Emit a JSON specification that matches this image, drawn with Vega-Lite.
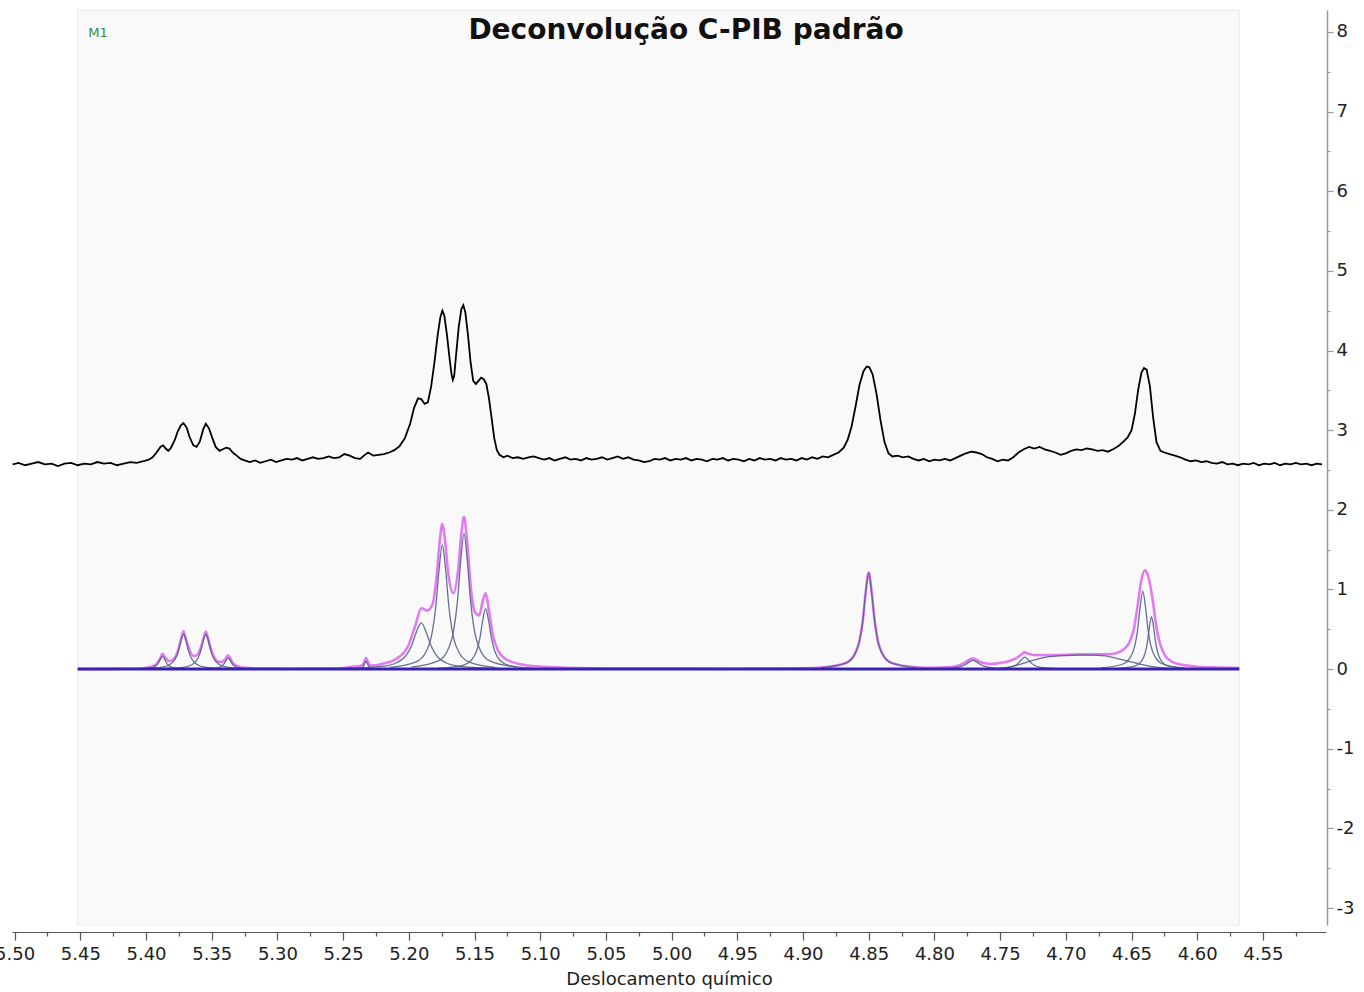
{
  "$schema": "https://vega.github.io/schema/vega-lite/v6.json",
  "width": 1314,
  "height": 915,
  "autosize": {"type": "none"},
  "padding": {"left": 12, "top": 10, "right": 38, "bottom": 67},
  "background": "white",
  "title": {"text": "Deconvolução C-PIB padrão", "anchor": "middle", "frame": "group", "orient": "top", "baseline": "middle", "offset": -21, "dy": 28, "dx": 17, "font": "DejaVu Sans", "fontSize": 28, "fontWeight": "bold", "color": "#111111"},
  "config": {"view": {"stroke": null}, "axis": {"grid": false}},
  "datasets": {
    "panel": [{"x": 5.452, "x2": 4.568, "y": 8.276, "y2": -3.213}],
    "marker": [{"x": 5.4365, "y": 7.99, "label": "M1"}],
    "base": [{"x": 5.452, "y": 0}, {"x": 4.568, "y": 0}],
    "spectrum": [
      {"x":5.5015,"y":2.57},{"x":5.497,"y":2.59},{"x":5.492,"y":2.56},{"x":5.487,"y":2.58},{"x":5.482,"y":2.6},{"x":5.477,"y":2.57},{"x":5.472,"y":2.58},{"x":5.467,"y":2.55},{"x":5.462,"y":2.58},{"x":5.457,"y":2.59},{"x":5.452,"y":2.56},{"x":5.447,"y":2.58},{"x":5.442,"y":2.57},{"x":5.437,"y":2.6},{"x":5.432,"y":2.58},{"x":5.427,"y":2.59},{"x":5.422,"y":2.56},{"x":5.417,"y":2.58},{"x":5.412,"y":2.6},{"x":5.407,"y":2.59},{"x":5.402,"y":2.61},{"x":5.398,"y":2.63},{"x":5.395,"y":2.66},{"x":5.392,"y":2.72},{"x":5.389,"y":2.79},{"x":5.387,"y":2.81},{"x":5.385,"y":2.77},{"x":5.383,"y":2.74},{"x":5.381,"y":2.78},{"x":5.378,"y":2.88},{"x":5.376,"y":2.98},{"x":5.3735,"y":3.06},{"x":5.3715,"y":3.09},{"x":5.369,"y":3.03},{"x":5.367,"y":2.92},{"x":5.364,"y":2.81},{"x":5.3615,"y":2.79},{"x":5.359,"y":2.86},{"x":5.3565,"y":3.01},{"x":5.3545,"y":3.08},{"x":5.352,"y":3.02},{"x":5.3495,"y":2.9},{"x":5.347,"y":2.79},{"x":5.344,"y":2.74},{"x":5.3415,"y":2.76},{"x":5.339,"y":2.78},{"x":5.3365,"y":2.77},{"x":5.334,"y":2.72},{"x":5.331,"y":2.68},{"x":5.328,"y":2.64},{"x":5.325,"y":2.62},{"x":5.321,"y":2.6},{"x":5.317,"y":2.62},{"x":5.313,"y":2.59},{"x":5.309,"y":2.61},{"x":5.305,"y":2.63},{"x":5.301,"y":2.6},{"x":5.297,"y":2.62},{"x":5.293,"y":2.64},{"x":5.289,"y":2.63},{"x":5.285,"y":2.65},{"x":5.281,"y":2.62},{"x":5.277,"y":2.64},{"x":5.273,"y":2.66},{"x":5.269,"y":2.64},{"x":5.265,"y":2.65},{"x":5.261,"y":2.67},{"x":5.257,"y":2.65},{"x":5.253,"y":2.66},{"x":5.249,"y":2.7},{"x":5.245,"y":2.68},{"x":5.241,"y":2.65},{"x":5.237,"y":2.64},{"x":5.2335,"y":2.69},{"x":5.231,"y":2.72},{"x":5.227,"y":2.68},{"x":5.223,"y":2.69},{"x":5.219,"y":2.7},{"x":5.215,"y":2.72},{"x":5.211,"y":2.75},{"x":5.207,"y":2.8},{"x":5.203,"y":2.9},{"x":5.199,"y":3.08},{"x":5.196,"y":3.28},{"x":5.193,"y":3.4},{"x":5.1905,"y":3.39},{"x":5.188,"y":3.33},{"x":5.1855,"y":3.35},{"x":5.183,"y":3.55},{"x":5.1805,"y":3.85},{"x":5.178,"y":4.2},{"x":5.176,"y":4.42},{"x":5.1745,"y":4.5},{"x":5.173,"y":4.44},{"x":5.171,"y":4.2},{"x":5.169,"y":3.9},{"x":5.1675,"y":3.7},{"x":5.1665,"y":3.63},{"x":5.1655,"y":3.68},{"x":5.164,"y":3.95},{"x":5.162,"y":4.3},{"x":5.16,"y":4.52},{"x":5.1585,"y":4.57},{"x":5.157,"y":4.48},{"x":5.155,"y":4.2},{"x":5.153,"y":3.85},{"x":5.151,"y":3.62},{"x":5.149,"y":3.58},{"x":5.147,"y":3.62},{"x":5.145,"y":3.66},{"x":5.143,"y":3.64},{"x":5.141,"y":3.58},{"x":5.139,"y":3.4},{"x":5.137,"y":3.15},{"x":5.135,"y":2.9},{"x":5.133,"y":2.75},{"x":5.131,"y":2.69},{"x":5.128,"y":2.66},{"x":5.125,"y":2.68},{"x":5.121,"y":2.65},{"x":5.117,"y":2.66},{"x":5.113,"y":2.64},{"x":5.109,"y":2.66},{"x":5.105,"y":2.67},{"x":5.101,"y":2.65},{"x":5.097,"y":2.63},{"x":5.093,"y":2.65},{"x":5.089,"y":2.62},{"x":5.085,"y":2.64},{"x":5.081,"y":2.66},{"x":5.077,"y":2.63},{"x":5.073,"y":2.64},{"x":5.069,"y":2.62},{"x":5.065,"y":2.65},{"x":5.061,"y":2.63},{"x":5.057,"y":2.64},{"x":5.053,"y":2.66},{"x":5.049,"y":2.63},{"x":5.045,"y":2.65},{"x":5.041,"y":2.67},{"x":5.037,"y":2.64},{"x":5.033,"y":2.66},{"x":5.029,"y":2.63},{"x":5.025,"y":2.62},{"x":5.021,"y":2.6},{"x":5.017,"y":2.61},{"x":5.013,"y":2.64},{"x":5.009,"y":2.63},{"x":5.005,"y":2.65},{"x":5.001,"y":2.62},{"x":4.997,"y":2.64},{"x":4.993,"y":2.63},{"x":4.989,"y":2.65},{"x":4.985,"y":2.62},{"x":4.981,"y":2.64},{"x":4.977,"y":2.63},{"x":4.973,"y":2.61},{"x":4.969,"y":2.64},{"x":4.965,"y":2.63},{"x":4.961,"y":2.65},{"x":4.957,"y":2.62},{"x":4.953,"y":2.64},{"x":4.949,"y":2.63},{"x":4.945,"y":2.61},{"x":4.941,"y":2.64},{"x":4.937,"y":2.62},{"x":4.933,"y":2.65},{"x":4.929,"y":2.63},{"x":4.925,"y":2.64},{"x":4.921,"y":2.62},{"x":4.917,"y":2.65},{"x":4.913,"y":2.63},{"x":4.909,"y":2.64},{"x":4.905,"y":2.62},{"x":4.901,"y":2.65},{"x":4.897,"y":2.63},{"x":4.893,"y":2.66},{"x":4.889,"y":2.64},{"x":4.885,"y":2.67},{"x":4.881,"y":2.66},{"x":4.877,"y":2.69},{"x":4.873,"y":2.72},{"x":4.869,"y":2.78},{"x":4.866,"y":2.88},{"x":4.863,"y":3.05},{"x":4.86,"y":3.3},{"x":4.857,"y":3.57},{"x":4.854,"y":3.74},{"x":4.8515,"y":3.8},{"x":4.8495,"y":3.79},{"x":4.847,"y":3.7},{"x":4.844,"y":3.45},{"x":4.841,"y":3.12},{"x":4.838,"y":2.85},{"x":4.835,"y":2.71},{"x":4.832,"y":2.67},{"x":4.828,"y":2.68},{"x":4.824,"y":2.66},{"x":4.82,"y":2.67},{"x":4.816,"y":2.64},{"x":4.812,"y":2.62},{"x":4.808,"y":2.64},{"x":4.804,"y":2.61},{"x":4.8,"y":2.63},{"x":4.796,"y":2.62},{"x":4.792,"y":2.64},{"x":4.788,"y":2.62},{"x":4.784,"y":2.65},{"x":4.78,"y":2.68},{"x":4.776,"y":2.71},{"x":4.772,"y":2.73},{"x":4.768,"y":2.72},{"x":4.764,"y":2.7},{"x":4.76,"y":2.66},{"x":4.756,"y":2.64},{"x":4.752,"y":2.61},{"x":4.748,"y":2.63},{"x":4.744,"y":2.62},{"x":4.74,"y":2.66},{"x":4.736,"y":2.72},{"x":4.732,"y":2.76},{"x":4.728,"y":2.79},{"x":4.724,"y":2.77},{"x":4.72,"y":2.79},{"x":4.716,"y":2.76},{"x":4.712,"y":2.74},{"x":4.708,"y":2.72},{"x":4.704,"y":2.69},{"x":4.7,"y":2.71},{"x":4.696,"y":2.74},{"x":4.692,"y":2.76},{"x":4.688,"y":2.75},{"x":4.684,"y":2.77},{"x":4.68,"y":2.76},{"x":4.676,"y":2.74},{"x":4.672,"y":2.75},{"x":4.668,"y":2.73},{"x":4.664,"y":2.76},{"x":4.66,"y":2.8},{"x":4.656,"y":2.86},{"x":4.653,"y":2.91},{"x":4.65,"y":3.0},{"x":4.6475,"y":3.2},{"x":4.645,"y":3.5},{"x":4.6425,"y":3.72},{"x":4.6405,"y":3.78},{"x":4.6385,"y":3.76},{"x":4.636,"y":3.55},{"x":4.6335,"y":3.15},{"x":4.631,"y":2.85},{"x":4.628,"y":2.74},{"x":4.625,"y":2.72},{"x":4.621,"y":2.7},{"x":4.617,"y":2.68},{"x":4.613,"y":2.66},{"x":4.609,"y":2.63},{"x":4.605,"y":2.61},{"x":4.601,"y":2.62},{"x":4.597,"y":2.6},{"x":4.593,"y":2.61},{"x":4.589,"y":2.59},{"x":4.585,"y":2.58},{"x":4.581,"y":2.6},{"x":4.577,"y":2.57},{"x":4.573,"y":2.58},{"x":4.569,"y":2.56},{"x":4.565,"y":2.58},{"x":4.561,"y":2.57},{"x":4.557,"y":2.59},{"x":4.553,"y":2.56},{"x":4.549,"y":2.58},{"x":4.545,"y":2.57},{"x":4.541,"y":2.59},{"x":4.537,"y":2.56},{"x":4.533,"y":2.58},{"x":4.529,"y":2.57},{"x":4.525,"y":2.59},{"x":4.521,"y":2.57},{"x":4.517,"y":2.58},{"x":4.513,"y":2.56},{"x":4.509,"y":2.58},{"x":4.505,"y":2.57}
    ],
    "fit": [
      {"x":5.452,"y":0},{"x":5.43,"y":0.002},{"x":5.415,"y":0.004},{"x":5.405,"y":0.008},{"x":5.3995,"y":0.018},{"x":5.395,"y":0.034},{"x":5.392,"y":0.065},{"x":5.3905,"y":0.099},{"x":5.389,"y":0.14},{"x":5.3875,"y":0.192},{"x":5.386,"y":0.16},{"x":5.385,"y":0.138},{"x":5.3825,"y":0.102},{"x":5.38,"y":0.113},{"x":5.3775,"y":0.157},{"x":5.375,"y":0.271},{"x":5.373,"y":0.4},{"x":5.3715,"y":0.474},{"x":5.37,"y":0.4},{"x":5.368,"y":0.29},{"x":5.3655,"y":0.19},{"x":5.363,"y":0.164},{"x":5.3605,"y":0.19},{"x":5.358,"y":0.288},{"x":5.356,"y":0.4},{"x":5.3545,"y":0.473},{"x":5.353,"y":0.4},{"x":5.351,"y":0.272},{"x":5.3475,"y":0.131},{"x":5.3445,"y":0.092},{"x":5.342,"y":0.092},{"x":5.3395,"y":0.13},{"x":5.3375,"y":0.175},{"x":5.336,"y":0.14},{"x":5.3345,"y":0.09},{"x":5.331,"y":0.04},{"x":5.325,"y":0.016},{"x":5.31,"y":0.006},{"x":5.29,"y":0.004},{"x":5.27,"y":0.006},{"x":5.25,"y":0.013},{"x":5.245,"y":0.026},{"x":5.2385,"y":0.036},{"x":5.236,"y":0.045},{"x":5.2345,"y":0.07},{"x":5.2335,"y":0.11},{"x":5.2325,"y":0.138},{"x":5.2315,"y":0.11},{"x":5.2305,"y":0.07},{"x":5.229,"y":0.048},{"x":5.227,"y":0.044},{"x":5.22,"y":0.067},{"x":5.21,"y":0.124},{"x":5.2,"y":0.309},{"x":5.195,"y":0.55},{"x":5.1905,"y":0.764},{"x":5.186,"y":0.734},{"x":5.182,"y":0.814},{"x":5.179,"y":1.137},{"x":5.1765,"y":1.6},{"x":5.1745,"y":1.824},{"x":5.1725,"y":1.627},{"x":5.17,"y":1.2},{"x":5.166,"y":0.953},{"x":5.1625,"y":1.242},{"x":5.16,"y":1.707},{"x":5.158,"y":1.913},{"x":5.156,"y":1.67},{"x":5.153,"y":1.053},{"x":5.15,"y":0.726},{"x":5.1465,"y":0.675},{"x":5.1435,"y":0.87},{"x":5.1415,"y":0.951},{"x":5.139,"y":0.733},{"x":5.136,"y":0.425},{"x":5.132,"y":0.229},{"x":5.126,"y":0.124},{"x":5.115,"y":0.061},{"x":5.1,"y":0.032},{"x":5.07,"y":0.013},{"x":5.03,"y":0.006},{"x":4.95,"y":0.004},{"x":4.9,"y":0.011},{"x":4.886,"y":0.02},{"x":4.868,"y":0.074},{"x":4.8613,"y":0.17},{"x":4.8568,"y":0.376},{"x":4.8545,"y":0.608},{"x":4.8523,"y":0.97},{"x":4.85,"y":1.212},{"x":4.8478,"y":0.97},{"x":4.8455,"y":0.608},{"x":4.8433,"y":0.376},{"x":4.8388,"y":0.17},{"x":4.832,"y":0.075},{"x":4.814,"y":0.024},{"x":4.8,"y":0.016},{"x":4.79,"y":0.022},{"x":4.785,"y":0.032},{"x":4.78,"y":0.055},{"x":4.776,"y":0.09},{"x":4.7735,"y":0.12},{"x":4.7707,"y":0.134},{"x":4.768,"y":0.115},{"x":4.765,"y":0.09},{"x":4.762,"y":0.075},{"x":4.758,"y":0.065},{"x":4.752,"y":0.072},{"x":4.745,"y":0.092},{"x":4.74,"y":0.12},{"x":4.736,"y":0.155},{"x":4.7335,"y":0.19},{"x":4.7312,"y":0.21},{"x":4.729,"y":0.195},{"x":4.7248,"y":0.178},{"x":4.715,"y":0.176},{"x":4.7,"y":0.18},{"x":4.69,"y":0.185},{"x":4.675,"y":0.185},{"x":4.665,"y":0.19},{"x":4.66,"y":0.21},{"x":4.655,"y":0.26},{"x":4.651,"y":0.36},{"x":4.648,"y":0.52},{"x":4.6455,"y":0.78},{"x":4.6425,"y":1.12},{"x":4.6399,"y":1.24},{"x":4.637,"y":1.15},{"x":4.634,"y":0.88},{"x":4.631,"y":0.52},{"x":4.628,"y":0.3},{"x":4.624,"y":0.16},{"x":4.619,"y":0.09},{"x":4.61,"y":0.05},{"x":4.6,"y":0.03},{"x":4.585,"y":0.02},{"x":4.568,"y":0.012}
    ],
    "peaks": [
      {"id":"A1","x":5.4115,"y":0.0024},{"id":"A1","x":5.3995,"y":0.0094},{"id":"A1","x":5.395,"y":0.022},{"id":"A1","x":5.392,"y":0.049},{"id":"A1","x":5.3905,"y":0.08},{"id":"A1","x":5.389,"y":0.128},{"id":"A1","x":5.3875,"y":0.16},{"id":"A1","x":5.386,"y":0.128},{"id":"A1","x":5.3845,"y":0.08},{"id":"A1","x":5.383,"y":0.049},{"id":"A1","x":5.38,"y":0.022},{"id":"A1","x":5.3755,"y":0.0094},{"id":"A1","x":5.3635,"y":0.0024},
      {"id":"A2","x":5.4035,"y":0.0066},{"id":"A2","x":5.3875,"y":0.026},{"id":"A2","x":5.3815,"y":0.061},{"id":"A2","x":5.3775,"y":0.136},{"id":"A2","x":5.3755,"y":0.22},{"id":"A2","x":5.3735,"y":0.352},{"id":"A2","x":5.3715,"y":0.44},{"id":"A2","x":5.3695,"y":0.352},{"id":"A2","x":5.3675,"y":0.22},{"id":"A2","x":5.3655,"y":0.136},{"id":"A2","x":5.3615,"y":0.061},{"id":"A2","x":5.3555,"y":0.026},{"id":"A2","x":5.3395,"y":0.0066},
      {"id":"A3","x":5.3865,"y":0.0066},{"id":"A3","x":5.3705,"y":0.026},{"id":"A3","x":5.3645,"y":0.061},{"id":"A3","x":5.3605,"y":0.136},{"id":"A3","x":5.3585,"y":0.22},{"id":"A3","x":5.3565,"y":0.352},{"id":"A3","x":5.3545,"y":0.44},{"id":"A3","x":5.3525,"y":0.352},{"id":"A3","x":5.3505,"y":0.22},{"id":"A3","x":5.3485,"y":0.136},{"id":"A3","x":5.3445,"y":0.061},{"id":"A3","x":5.3385,"y":0.026},{"id":"A3","x":5.3225,"y":0.0066},
      {"id":"A4","x":5.3615,"y":0.0021},{"id":"A4","x":5.3495,"y":0.0083},{"id":"A4","x":5.345,"y":0.0193},{"id":"A4","x":5.342,"y":0.043},{"id":"A4","x":5.3405,"y":0.07},{"id":"A4","x":5.339,"y":0.112},{"id":"A4","x":5.3375,"y":0.14},{"id":"A4","x":5.336,"y":0.112},{"id":"A4","x":5.3345,"y":0.07},{"id":"A4","x":5.333,"y":0.043},{"id":"A4","x":5.33,"y":0.0193},{"id":"A4","x":5.3255,"y":0.0083},{"id":"A4","x":5.3135,"y":0.0021},
      {"id":"B","x":5.2445,"y":0.0015},{"id":"B","x":5.2385,"y":0.0059},{"id":"B","x":5.2363,"y":0.0138},{"id":"B","x":5.2348,"y":0.031},{"id":"B","x":5.234,"y":0.05},{"id":"B","x":5.2333,"y":0.08},{"id":"B","x":5.2325,"y":0.1},{"id":"B","x":5.2318,"y":0.08},{"id":"B","x":5.231,"y":0.05},{"id":"B","x":5.2303,"y":0.031},{"id":"B","x":5.2288,"y":0.0138},{"id":"B","x":5.2265,"y":0.0059},{"id":"B","x":5.2205,"y":0.0015},
      {"id":"C5","x":5.2505,"y":0.0087},{"id":"C5","x":5.2205,"y":0.034},{"id":"C5","x":5.2093,"y":0.08},{"id":"C5","x":5.2018,"y":0.179},{"id":"C5","x":5.198,"y":0.29},{"id":"C5","x":5.1943,"y":0.464},{"id":"C5","x":5.1905,"y":0.58},{"id":"C5","x":5.1868,"y":0.464},{"id":"C5","x":5.183,"y":0.29},{"id":"C5","x":5.1793,"y":0.179},{"id":"C5","x":5.1718,"y":0.08},{"id":"C5","x":5.1605,"y":0.034},{"id":"C5","x":5.1305,"y":0.0087},
      {"id":"C6","x":5.2145,"y":0.023},{"id":"C6","x":5.1945,"y":0.092},{"id":"C6","x":5.187,"y":0.215},{"id":"C6","x":5.182,"y":0.48},{"id":"C6","x":5.1795,"y":0.78},{"id":"C6","x":5.177,"y":1.248},{"id":"C6","x":5.1745,"y":1.56},{"id":"C6","x":5.172,"y":1.248},{"id":"C6","x":5.1695,"y":0.78},{"id":"C6","x":5.167,"y":0.48},{"id":"C6","x":5.162,"y":0.215},{"id":"C6","x":5.1545,"y":0.092},{"id":"C6","x":5.1345,"y":0.023},
      {"id":"C7","x":5.198,"y":0.026},{"id":"C7","x":5.178,"y":0.1},{"id":"C7","x":5.1705,"y":0.235},{"id":"C7","x":5.1655,"y":0.524},{"id":"C7","x":5.163,"y":0.85},{"id":"C7","x":5.1605,"y":1.36},{"id":"C7","x":5.158,"y":1.7},{"id":"C7","x":5.1555,"y":1.36},{"id":"C7","x":5.153,"y":0.85},{"id":"C7","x":5.1505,"y":0.524},{"id":"C7","x":5.1455,"y":0.235},{"id":"C7","x":5.138,"y":0.1},{"id":"C7","x":5.118,"y":0.026},
      {"id":"C8","x":5.1775,"y":0.0114},{"id":"C8","x":5.1595,"y":0.045},{"id":"C8","x":5.1528,"y":0.105},{"id":"C8","x":5.1483,"y":0.234},{"id":"C8","x":5.146,"y":0.38},{"id":"C8","x":5.1438,"y":0.608},{"id":"C8","x":5.1415,"y":0.76},{"id":"C8","x":5.1393,"y":0.608},{"id":"C8","x":5.137,"y":0.38},{"id":"C8","x":5.1348,"y":0.234},{"id":"C8","x":5.1303,"y":0.105},{"id":"C8","x":5.1235,"y":0.045},{"id":"C8","x":5.1055,"y":0.0114},
      {"id":"D","x":4.886,"y":0.018},{"id":"D","x":4.868,"y":0.071},{"id":"D","x":4.8613,"y":0.167},{"id":"D","x":4.8568,"y":0.373},{"id":"D","x":4.8545,"y":0.605},{"id":"D","x":4.8523,"y":0.968},{"id":"D","x":4.85,"y":1.21},{"id":"D","x":4.8478,"y":0.968},{"id":"D","x":4.8455,"y":0.605},{"id":"D","x":4.8433,"y":0.373},{"id":"D","x":4.8388,"y":0.167},{"id":"D","x":4.832,"y":0.071},{"id":"D","x":4.814,"y":0.018},
      {"id":"E1","x":4.8187,"y":0.0017},{"id":"E1","x":4.7947,"y":0.0065},{"id":"E1","x":4.7857,"y":0.0152},{"id":"E1","x":4.7797,"y":0.034},{"id":"E1","x":4.7767,"y":0.055},{"id":"E1","x":4.7737,"y":0.088},{"id":"E1","x":4.7707,"y":0.11},{"id":"E1","x":4.7677,"y":0.088},{"id":"E1","x":4.7647,"y":0.055},{"id":"E1","x":4.7617,"y":0.034},{"id":"E1","x":4.7557,"y":0.0152},{"id":"E1","x":4.7467,"y":0.0065},{"id":"E1","x":4.7227,"y":0.0017},
      {"id":"E2","x":4.7712,"y":0.0023},{"id":"E2","x":4.7512,"y":0.0089},{"id":"E2","x":4.7437,"y":0.0207},{"id":"E2","x":4.7387,"y":0.046},{"id":"E2","x":4.7362,"y":0.075},{"id":"E2","x":4.7337,"y":0.12},{"id":"E2","x":4.7312,"y":0.15},{"id":"E2","x":4.7287,"y":0.12},{"id":"E2","x":4.7262,"y":0.075},{"id":"E2","x":4.7237,"y":0.046},{"id":"E2","x":4.7187,"y":0.0207},{"id":"E2","x":4.7112,"y":0.0089},{"id":"E2","x":4.6912,"y":0.0023},
      {"id":"E3","x":4.76,"y":0},{"id":"E3","x":4.745,"y":0.02},{"id":"E3","x":4.735,"y":0.06},{"id":"E3","x":4.725,"y":0.11},{"id":"E3","x":4.715,"y":0.15},{"id":"E3","x":4.7,"y":0.17},{"id":"E3","x":4.69,"y":0.175},{"id":"E3","x":4.68,"y":0.175},{"id":"E3","x":4.67,"y":0.165},{"id":"E3","x":4.66,"y":0.13},{"id":"E3","x":4.65,"y":0.09},{"id":"E3","x":4.64,"y":0.05},{"id":"E3","x":4.63,"y":0.02},{"id":"E3","x":4.62,"y":0.006},{"id":"E3","x":4.61,"y":0},
      {"id":"E4","x":4.6734,"y":0.0147},{"id":"E4","x":4.6574,"y":0.058},{"id":"E4","x":4.6514,"y":0.135},{"id":"E4","x":4.6474,"y":0.3},{"id":"E4","x":4.6454,"y":0.49},{"id":"E4","x":4.6434,"y":0.784},{"id":"E4","x":4.6414,"y":0.98},{"id":"E4","x":4.6394,"y":0.784},{"id":"E4","x":4.6374,"y":0.49},{"id":"E4","x":4.6354,"y":0.3},{"id":"E4","x":4.6314,"y":0.135},{"id":"E4","x":4.6254,"y":0.058},{"id":"E4","x":4.6094,"y":0.0147},
      {"id":"E5","x":4.6604,"y":0.0099},{"id":"E5","x":4.6476,"y":0.039},{"id":"E5","x":4.6428,"y":0.091},{"id":"E5","x":4.6396,"y":0.203},{"id":"E5","x":4.638,"y":0.33},{"id":"E5","x":4.6364,"y":0.528},{"id":"E5","x":4.6348,"y":0.66},{"id":"E5","x":4.6332,"y":0.528},{"id":"E5","x":4.6316,"y":0.33},{"id":"E5","x":4.63,"y":0.203},{"id":"E5","x":4.6268,"y":0.091},{"id":"E5","x":4.622,"y":0.039},{"id":"E5","x":4.6092,"y":0.0099}
    ]
  },
  "encoding": {
    "x": {"field": "x", "type": "quantitative", "scale": {"domain": [4.502, 5.502], "reverse": true, "nice": false, "zero": false},
      "axis": {"orient": "bottom", "offset": 7, "title": "Deslocamento químico",
        "values": [4.525,4.55,4.575,4.6,4.625,4.65,4.675,4.7,4.725,4.75,4.775,4.8,4.825,4.85,4.875,4.9,4.925,4.95,4.975,5,5.025,5.05,5.075,5.1,5.125,5.15,5.175,5.2,5.225,5.25,5.275,5.3,5.325,5.35,5.375,5.4,5.425,5.45,5.475,5.5],
        "labelExpr": "abs(datum.value*20 - round(datum.value*20)) < 0.01 ? format(datum.value, '.2f') : ''",
        "tickSize": {"condition": {"test": "abs(datum.value*20 - round(datum.value*20)) < 0.01", "value": 8}, "value": 4},
        "labelFlush": false, "labelOverlap": false, "labelPadding": 5,
        "domainColor": "#555555", "tickColor": "#555555", "domainWidth": 1.2, "tickWidth": 1.2,
        "labelFont": "DejaVu Sans", "labelFontSize": 18, "labelColor": "#222222",
        "titleFont": "DejaVu Sans", "titleFontSize": 18, "titleFontWeight": "normal", "titleColor": "#222222", "titlePadding": 7}},
    "y": {"field": "y", "type": "quantitative", "scale": {"domain": [-3.213, 8.276], "nice": false, "zero": false},
      "axis": {"orient": "right", "offset": 1, "title": null,
        "values": [-3,-2.5,-2,-1.5,-1,-0.5,0,0.5,1,1.5,2,2.5,3,3.5,4,4.5,5,5.5,6,6.5,7,7.5,8],
        "labelExpr": "datum.value == round(datum.value) ? (datum.value < 0 ? '-' + abs(datum.value) : '' + datum.value) : ''",
        "tickSize": {"condition": {"test": "datum.value == round(datum.value)", "value": 6}, "value": 3},
        "labelOverlap": false, "labelPadding": 3, "labelAlign": "left", "labelBaseline": "middle",
        "domainColor": "#999999", "tickColor": "#999999", "domainWidth": 1.5, "tickWidth": 1.2,
        "labelFont": "DejaVu Sans", "labelFontSize": 18, "labelColor": "#222222"}}
  },
  "layer": [
    {
      "data": {"name": "panel"},
      "mark": {"type": "rect", "fill": "#f9f9f9", "stroke": "#e8e8e8", "strokeWidth": 1},
      "encoding": {"x2": {"field": "x2"}, "y2": {"field": "y2"}}
    },
    {
      "data": {"name": "spectrum"},
      "mark": {"type": "line", "color": "#000000", "strokeWidth": 1.8, "interpolate": "linear"},
      "encoding": {}
    },
    {
      "data": {"name": "fit"},
      "mark": {"type": "line", "color": "#e07cf0", "strokeWidth": 2.6, "interpolate": "monotone"},
      "encoding": {}
    },
    {
      "data": {"name": "peaks"},
      "mark": {"type": "line", "color": "#55608a", "strokeWidth": 1.3, "opacity": 0.9, "interpolate": "monotone"},
      "encoding": {"detail": {"field": "id", "type": "nominal"}}
    },
    {
      "data": {"name": "base"},
      "mark": {"type": "line", "color": "#3a22b0", "strokeWidth": 3},
      "encoding": {}
    },
    {
      "data": {"name": "marker"},
      "mark": {"type": "text", "font": "DejaVu Sans", "fontSize": 13, "color": "#3a8a3a", "align": "center", "baseline": "middle"},
      "encoding": {"text": {"field": "label"}}
    }
  ]
}
